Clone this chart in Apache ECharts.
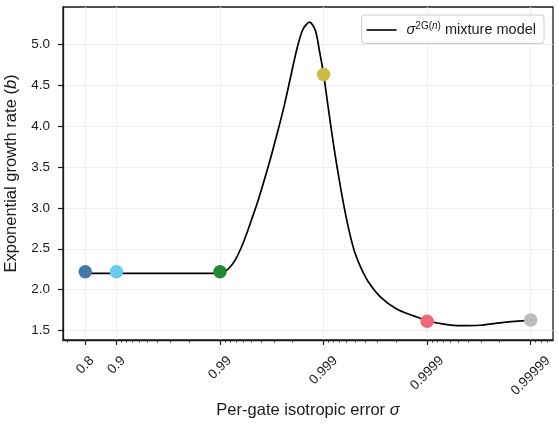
<!DOCTYPE html>
<html>
<head>
<meta charset="utf-8">
<script src="https://cdn.jsdelivr.net/npm/echarts@6/dist/echarts.min.js"></script>
<style>
html, body { margin: 0; padding: 0; background: #fff; }
#chart { width: 559px; height: 429px; }
</style>
</head>
<body>
<div id="chart"></div>
<script>
// x is plotted as t = -log10(1 - sigma), so 0.9 -> 1, 0.99 -> 2 ...
var tickSigma = [0.8, 0.9, 0.99, 0.999, 0.9999, 0.99999];
var tickLabels = ['0.8', '0.9', '0.99', '0.999', '0.9999', '0.99999'];
var yTicks = [1.5, 2.0, 2.5, 3.0, 3.5, 4.0, 4.5, 5.0];

// mixture model curve (t, b)
var curveT = [0.699, 1.0, 1.5, 1.9, 2.0, 2.05, 2.10, 2.15, 2.20, 2.25, 2.30, 2.37, 2.46, 2.55, 2.62, 2.68, 2.74, 2.80, 2.865,
  2.92, 2.96, 3.0, 3.05, 3.10, 3.15, 3.20, 3.25, 3.30, 3.36, 3.43, 3.55, 3.71, 3.87, 4.0, 4.16, 4.32, 4.51, 4.74, 5.0];
var curveB = [2.20, 2.20, 2.20, 2.20, 2.205, 2.225, 2.28, 2.37, 2.50, 2.66, 2.84, 3.10, 3.48, 3.90, 4.25, 4.59, 4.93, 5.18, 5.27,
  5.17, 4.92, 4.63, 4.18, 3.74, 3.35, 3.00, 2.70, 2.46, 2.27, 2.10, 1.91, 1.76, 1.68, 1.62, 1.58, 1.56, 1.565, 1.60, 1.628];

// highlighted points
var markerSigma = [0.8, 0.9, 0.99, 0.999, 0.9999, 0.99999];
var markerB = [2.22, 2.22, 2.22, 4.63, 1.615, 1.63];
var markerColors = ['#4477AA', '#66CCEE', '#228833', '#CCBB44', '#EE6677', '#BBBBBB'];

function toT(s) { return -Math.log10(1 - s); }

var xMin = 0.484, xMax = 5.215;
var majorT = tickSigma.map(toT);
var minorT = [];
for (var e = 1; e <= 6; e++) {
  for (var k = 2; k <= 9; k++) {
    var t = e - Math.log10(k);
    if (t > xMin && t < xMax && Math.abs(t - majorT[0]) > 1e-6) minorT.push(t);
  }
}

var font = 'Liberation Sans, Arial, sans-serif';
var ink = '#1a1a1a';
var tickFont = 13.5;

// rotated labels sit centred under their tick (matplotlib style), so each one
// gets its own margin depending on its width
var ctx = document.createElement('canvas').getContext('2d');
ctx.font = tickFont + 'px ' + font;

var xAxes = [{
  type: 'value', min: xMin, max: xMax,
  name: 'Per-gate isotropic error {it|σ}',
  nameLocation: 'middle', nameGap: 62,
  nameTextStyle: { fontSize: 16.5, color: ink, fontFamily: font, rich: { it: { fontStyle: 'italic', fontSize: 16.5, fontFamily: font } } },
  axisLine: { show: true, lineStyle: { color: ink, width: 1.3 } },
  axisTick: { show: true, length: 5, customValues: majorT, lineStyle: { color: ink, width: 1.2 } },
  axisLabel: { show: false },
  splitLine: { show: true, lineStyle: { color: '#ececec', width: 0.8 } }
}, {
  type: 'value', min: xMin, max: xMax, position: 'bottom',
  axisLine: { show: false },
  axisTick: { show: true, length: 2.5, customValues: minorT, lineStyle: { color: ink, width: 0.9 } },
  axisLabel: { show: false },
  splitLine: { show: false }
}];
tickLabels.forEach(function (lab, i) {
  var w = ctx.measureText(lab).width;
  xAxes.push({
    type: 'value', min: xMin, max: xMax, position: 'bottom',
    axisLine: { show: false }, axisTick: { show: false }, splitLine: { show: false },
    axisLabel: {
      customValues: [majorT[i]], rotate: 45, align: 'center', verticalAlign: 'middle',
      margin: 15 + (w + 10) * 0.354, fontSize: tickFont, color: ink, fontFamily: font,
      formatter: function () { return lab; }
    }
  });
});

var chart = echarts.init(document.getElementById('chart'));
chart.setOption({
  animation: false,
  textStyle: { fontFamily: font },
  grid: {
    left: 63, right: 6, top: 7, bottom: 89,
    outerBoundsMode: 'none', containLabel: false,
    show: true, borderColor: ink, borderWidth: 1.3
  },
  legend: {
    right: 15, top: 15,
    padding: [6, 8, 6, 5],
    itemWidth: 30, itemHeight: 1.6, itemGap: 8,
    backgroundColor: '#fff', borderColor: '#cccccc', borderWidth: 1, borderRadius: 3,
    data: [{ name: 'model', icon: 'rect', itemStyle: { color: '#000' } }],
    formatter: function () { return '{gap|}{it|σ}{sup|2G(}{supi|n}{sup|)} mixture model'; },
    textStyle: {
      fontSize: 14.5, color: ink, fontFamily: font,
      rich: {
        gap: { width: 5 },
        it: { fontStyle: 'italic', fontSize: 14.5, fontFamily: font },
        sup: { fontSize: 10, fontFamily: font, padding: [0, 0, 8, 0] },
        supi: { fontSize: 10, fontStyle: 'italic', fontFamily: font, padding: [0, 0, 8, 0] }
      }
    }
  },
  xAxis: xAxes,
  yAxis: {
    type: 'value', min: 1.385, max: 5.455,
    name: 'Exponential growth rate ({it|b})',
    nameLocation: 'middle', nameGap: 40,
    nameTextStyle: { fontSize: 16.5, color: ink, fontFamily: font, rich: { it: { fontStyle: 'italic', fontSize: 16.5, fontFamily: font } } },
    axisLine: { show: true, lineStyle: { color: ink, width: 1.3 } },
    axisTick: { show: true, length: 5, customValues: yTicks, lineStyle: { color: ink, width: 1.2 } },
    axisLabel: { customValues: yTicks, fontSize: tickFont, color: ink, margin: 13, formatter: function (v) { return v.toFixed(1); } },
    splitLine: { show: true, lineStyle: { color: '#ececec', width: 0.8 } }
  },
  series: [{
    name: 'model', type: 'line', xAxisIndex: 0,
    data: curveT.map(function (t, i) { return [t, curveB[i]]; }),
    showSymbol: false, symbol: 'none', smooth: 0.3,
    lineStyle: { color: '#000', width: 1.7 },
    itemStyle: { color: '#000' },
    z: 3
  }, {
    name: 'points', type: 'scatter', xAxisIndex: 0,
    data: markerSigma.map(function (s, i) {
      return { value: [toT(s), markerB[i]], itemStyle: { color: markerColors[i], opacity: 1 } };
    }),
    symbolSize: 13.5,
    z: 4
  }]
});
</script>
</body>
</html>
